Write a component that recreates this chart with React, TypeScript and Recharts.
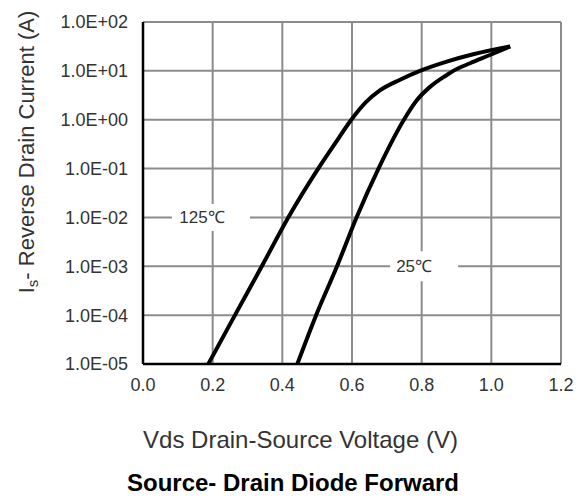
import React from 'react';
import {
  CartesianGrid, Line, LineChart, ReferenceDot, XAxis, YAxis,
} from 'recharts';

// Vds (V) vs Is (A), log scale
const volts125 = [0.1875, 0.264, 0.341, 0.417, 0.503, 0.55, 0.598, 0.64, 0.68, 0.738, 0.795, 0.872, 0.948, 1.054];
const amps125 = [1e-5, 1e-4, 1e-3, 1e-2, 0.1, 0.316, 1, 2.29, 3.98, 6.6, 10, 15.5, 21.9, 31.6];

const volts25 = [0.443, 0.497, 0.557, 0.613, 0.676, 0.749, 0.786, 0.824, 0.872, 0.891, 0.939, 0.996, 1.054];
const amps25 = [1e-5, 1e-4, 1e-3, 1e-2, 0.1, 1, 2.5, 4.7, 8.2, 10, 14.3, 21.1, 31.6];

const xTicks = [0, 0.2, 0.4, 0.6, 0.8, 1.0, 1.2];
const xTickLabels = ['0.0', '0.2', '0.4', '0.6', '0.8', '1.0', '1.2'];
const yTicks = [1e-5, 1e-4, 1e-3, 1e-2, 1e-1, 1, 10, 100];
const yTickLabels = ['1.0E-05', '1.0E-04', '1.0E-03', '1.0E-02', '1.0E-01', '1.0E+00', '1.0E+01', '1.0E+02'];

const series125 = volts125.map((v, k) => ({ v, i: amps125[k] }));
const series25 = volts25.map((v, k) => ({ v, i: amps25[k] }));

const FONT = '"Liberation Sans", Arial, sans-serif';

const nearest = (arr: number[], val: number, log = false) => {
  const f = (x: number) => (log ? Math.log10(x) : x);
  let best = 0;
  arr.forEach((t, k) => {
    if (Math.abs(f(t) - f(val)) < Math.abs(f(arr[best]) - f(val))) best = k;
  });
  return best;
};

// white box label that breaks the grid lines, like the datasheet
const tempTag = (text: string, boxW: number, boxH: number, textShift: number) => (p: any) => (
  <g>
    <rect x={p.cx - boxW / 2} y={p.cy - boxH / 2} width={boxW} height={boxH} fill="#fff" />
    <text x={p.cx + textShift} y={p.cy} textAnchor="middle" dominantBaseline="central"
      fontSize={17} fill="#333" fontFamily={FONT}>{text}</text>
  </g>
);

export default function App() {
  return (
    <div style={{ position: 'relative', width: 576, height: 494, fontFamily: FONT }}>
      <LineChart width={576} height={396} margin={{ top: 14, right: 23, bottom: 0, left: 0 }}>
        <CartesianGrid stroke="#8c8c8c" strokeWidth={2} />
        <XAxis
          dataKey="v" type="number" domain={[0, 1.2]} ticks={xTicks}
          tickFormatter={(v: number) => xTickLabels[nearest(xTicks, v)]}
          tick={{ fill: '#333', fontSize: 18, fontFamily: FONT }}
          tickLine={false} tickSize={0} tickMargin={14} height={40}
          axisLine={{ stroke: '#000', strokeWidth: 2.5 }}
          allowDataOverflow
        />
        <YAxis
          dataKey="i" type="number" scale="log" domain={[1e-5, 100]} ticks={yTicks}
          tickFormatter={(v: number) => yTickLabels[nearest(yTicks, v, true)]}
          tick={{ fill: '#333', fontSize: 18, fontFamily: FONT }}
          tickLine={false} tickSize={0} tickMargin={15} width={135}
          axisLine={{ stroke: '#000', strokeWidth: 2.5 }}
          allowDataOverflow interval={0}
        />
        <ReferenceDot x={0.195} y={1e-2} r={0} shape={tempTag('125℃', 78, 27, -9)} />
        <ReferenceDot x={0.807} y={1e-3} r={0} shape={tempTag('25℃', 68, 30, -10)} />
        <Line data={series125} dataKey="i" type="monotone" stroke="#000" strokeWidth={4}
          dot={false} isAnimationActive={false} />
        <Line data={series25} dataKey="i" type="monotone" stroke="#000" strokeWidth={4}
          dot={false} isAnimationActive={false} />
      </LineChart>
      <div style={{
        position: 'absolute', left: 18.5, top: 143.5, transform: 'translate(-50%, -50%) rotate(-90deg)',
        whiteSpace: 'nowrap', fontSize: 22, lineHeight: '22px', color: '#333',
      }}>
        I<sub style={{ fontSize: 15, verticalAlign: '-4px', lineHeight: 0 }}>s</sub>- Reverse Drain Current (A)
      </div>
      <div style={{
        position: 'absolute', left: 292.5, top: 420, transform: 'translateX(-50%)',
        whiteSpace: 'nowrap', fontSize: 24, lineHeight: '24px', color: '#333',
      }}>
        Vds Drain-Source Voltage (V)
      </div>
      <div style={{
        position: 'absolute', left: 285, top: 463, transform: 'translateX(-50%)',
        whiteSpace: 'nowrap', fontSize: 24, lineHeight: '24px', fontWeight: 'bold', color: '#000',
      }}>
        Source- Drain Diode Forward
      </div>
    </div>
  );
}
